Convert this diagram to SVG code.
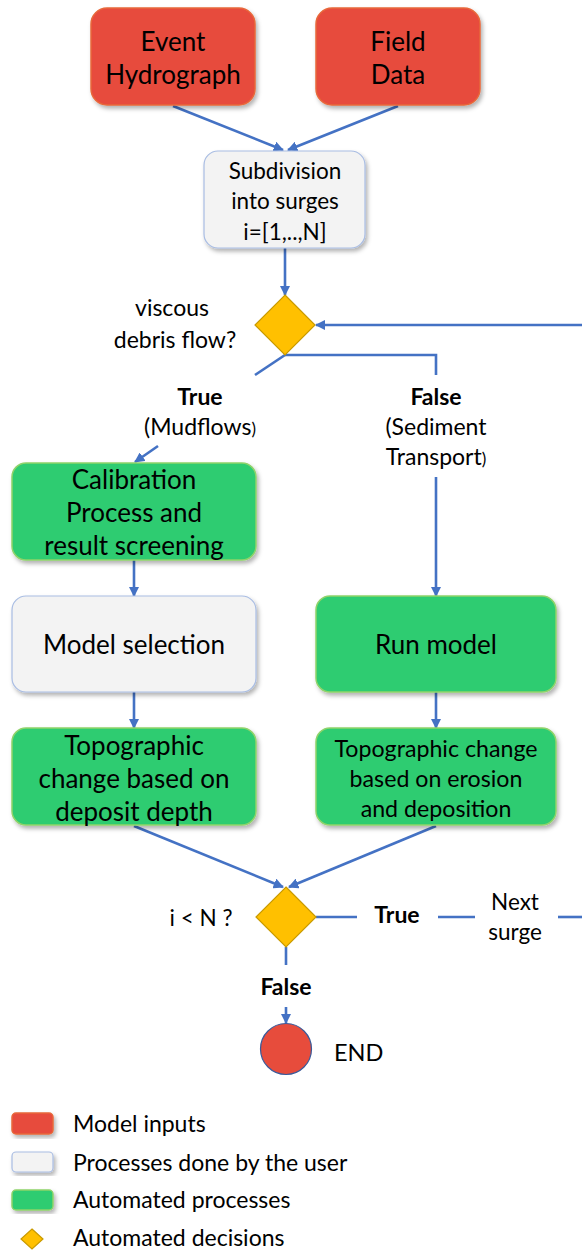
<svg xmlns="http://www.w3.org/2000/svg" width="582" height="1252" viewBox="0 0 582 1252">
<defs>
<filter id="sh" x="-10%" y="-10%" width="125%" height="130%">
<feDropShadow dx="2" dy="3" stdDeviation="2" flood-color="#000" flood-opacity="0.3"/>
</filter>
<marker id="ah" viewBox="0 0 10 10" refX="9" refY="5" markerWidth="4" markerHeight="4" orient="auto">
<path d="M0,0 L10,5 L0,10 z" fill="#4472c4"/>
</marker>
</defs>
<style>
text{font-family:Lato,"Open Sans","Liberation Sans",sans-serif;fill:#000;}
.c{text-anchor:middle;}
.b{font-weight:bold;}
.red{fill:#e74c3c;stroke:#e8683a;stroke-width:1.5;}
.gray{fill:#f3f3f3;stroke:#a9bde3;stroke-width:1.2;}
.green{fill:#2ecc71;stroke:#8fd36a;stroke-width:1.5;}
.dia{fill:#ffc000;stroke:#c99a00;stroke-width:1.2;}
.ln{fill:none;stroke:#4472c4;stroke-width:2.6;}
.ar{marker-end:url(#ah);}
</style>
<rect width="582" height="1252" fill="#fff"/>

<g id="connectors">
<line class="ln ar" x1="173" y1="106" x2="283" y2="150"/>
<line class="ln ar" x1="398" y1="106" x2="288" y2="150"/>
<line class="ln ar" x1="285" y1="248" x2="285" y2="295"/>
<line class="ln ar" x1="582" y1="325" x2="316" y2="325"/>
<polyline class="ln" points="285,355 436,355 436,375"/>
<line class="ln" x1="285" y1="355" x2="255" y2="375"/>
<line class="ln ar" x1="158" y1="446" x2="135" y2="462"/>
<line class="ln ar" x1="436" y1="477" x2="436" y2="596"/>
<line class="ln ar" x1="134" y1="560" x2="134" y2="596"/>
<line class="ln ar" x1="134" y1="692" x2="134" y2="728"/>
<line class="ln ar" x1="436" y1="692" x2="436" y2="728"/>
<line class="ln ar" x1="134" y1="826" x2="283" y2="887"/>
<line class="ln ar" x1="436" y1="826" x2="289" y2="887"/>
<line class="ln" x1="316" y1="917" x2="357" y2="917"/>
<line class="ln" x1="438" y1="917" x2="475" y2="917"/>
<line class="ln" x1="558" y1="917" x2="582" y2="917"/>
<line class="ln" x1="286" y1="947" x2="286" y2="965"/>
<line class="ln ar" x1="286" y1="1007" x2="286" y2="1023"/>
</g>

<g id="event-hydrograph">
<rect class="red" x="91" y="8" width="164" height="97" rx="16" filter="url(#sh)"/>
<text class="c" x="173" y="51" font-size="26">Event</text>
<text class="c" x="173" y="84" font-size="26">Hydrograph</text>
</g>
<g id="field-data">
<rect class="red" x="316" y="8" width="164" height="97" rx="16" filter="url(#sh)"/>
<text class="c" x="398" y="51" font-size="26">Field</text>
<text class="c" x="398" y="84" font-size="26">Data</text>
</g>
<g id="subdivision">
<rect class="gray" x="204" y="151" width="161" height="97" rx="14" filter="url(#sh)"/>
<text class="c" x="285" y="179" font-size="22.5">Subdivision</text>
<text class="c" x="285" y="209" font-size="22.5">into surges</text>
<text class="c" x="285" y="240" font-size="22.5">i=[1,..,N]</text>
</g>
<g id="decision-viscous">
<polygon class="dia" points="285,295 315,325 285,355 255,325"/>
<text class="c" x="172" y="316" font-size="23">viscous</text>
<text class="c" x="175" y="348" font-size="23">debris flow?</text>
</g>
<g id="label-true-1">
<text class="c b" x="200" y="405" font-size="23">True</text>
<text class="c" x="200" y="435" font-size="23">(Mudflows<tspan font-size="17">)</tspan></text>
</g>
<g id="label-false-1">
<text class="c b" x="436" y="405" font-size="23">False</text>
<text class="c" x="436" y="435" font-size="23">(Sediment</text>
<text class="c" x="436" y="465" font-size="23">Transport<tspan font-size="17">)</tspan></text>
</g>
<g id="calibration">
<rect class="green" x="12" y="463" width="244" height="97" rx="14" filter="url(#sh)"/>
<text class="c" x="134" y="489" font-size="26">Calibration</text>
<text class="c" x="134" y="522" font-size="26">Process and</text>
<text class="c" x="134" y="555" font-size="26">result screening</text>
</g>
<g id="model-selection">
<rect class="gray" x="12" y="596" width="244" height="96" rx="14" filter="url(#sh)"/>
<text class="c" x="134" y="654" font-size="26">Model selection</text>
</g>
<g id="run-model">
<rect class="green" x="316" y="596" width="240" height="96" rx="14" filter="url(#sh)"/>
<text class="c" x="436" y="654" font-size="26">Run model</text>
</g>
<g id="topo-left">
<rect class="green" x="12" y="728" width="244" height="97" rx="14" filter="url(#sh)"/>
<text class="c" x="134" y="755" font-size="26">Topographic</text>
<text class="c" x="134" y="788" font-size="26">change based on</text>
<text class="c" x="134" y="821" font-size="26">deposit depth</text>
</g>
<g id="topo-right">
<rect class="green" x="316" y="728" width="240" height="97" rx="14" filter="url(#sh)"/>
<text class="c" x="436" y="757" font-size="23.2">Topographic change</text>
<text class="c" x="436" y="787" font-size="23.2">based on erosion</text>
<text class="c" x="436" y="817" font-size="23.2">and deposition</text>
</g>
<g id="decision-count">
<polygon class="dia" points="286,887 316,917 286,947 256,917"/>
<text class="c" x="201" y="926" font-size="22.5">i &lt; N ?</text>
</g>
<g id="label-true-2">
<text class="c b" x="397" y="923" font-size="23">True</text>
</g>
<g id="label-next">
<text class="c" x="515" y="910" font-size="22.5">Next</text>
<text class="c" x="515" y="940" font-size="22.5">surge</text>
</g>
<g id="label-false-2">
<text class="c b" x="286" y="995" font-size="23">False</text>
</g>
<g id="end">
<circle cx="286" cy="1049" r="25.5" fill="#e74c3c" stroke="#3a5a9a" stroke-width="1.2"/>
<text x="334" y="1061" font-size="23.5">END</text>
</g>
<g id="legend">
<rect class="red" x="12" y="1113" width="41" height="21" rx="4" filter="url(#sh)"/>
<text x="73" y="1132" font-size="23">Model inputs</text>
<rect class="gray" x="12" y="1152" width="41" height="20" rx="4" filter="url(#sh)"/>
<text x="73" y="1171" font-size="23">Processes done by the user</text>
<rect class="green" x="12" y="1190" width="41" height="20" rx="4" filter="url(#sh)"/>
<text x="73" y="1208" font-size="23">Automated processes</text>
<polygon class="dia" points="32,1229 43,1239 32,1249 21,1239"/>
<text x="73" y="1246" font-size="23">Automated decisions</text>
</g>
</svg>
